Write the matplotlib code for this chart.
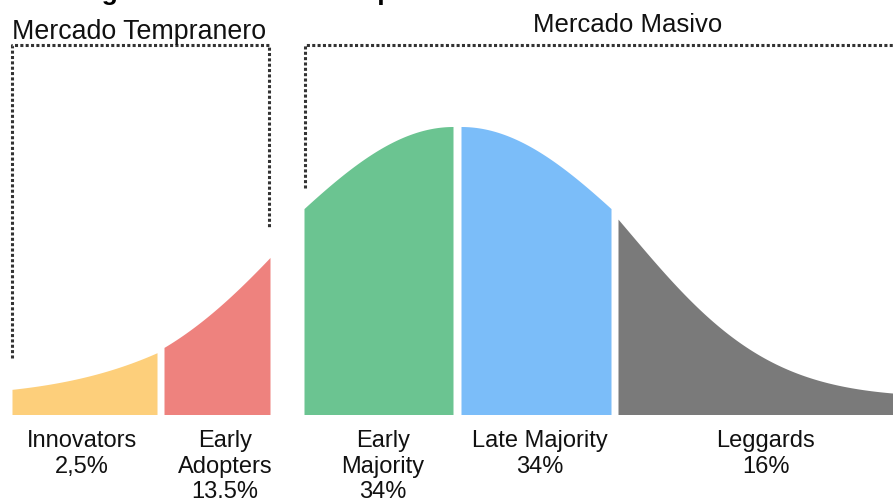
import numpy as np
import matplotlib
matplotlib.use("Agg")
from matplotlib import pyplot as plt

plt.rcParams['font.family'] = ['Liberation Sans', 'DejaVu Sans']

# adopter categories (Rogers curve, split by the chasm)
segments = ['Innovators', 'Early\nAdopters', 'Early\nMajority', 'Late Majority', 'Leggards']
shares = ['2,5%', '13.5%', '34%', '34%', '16%']
# part of the bell curve (in std devs) that each segment shows
z_start = [-2.66, -1.84, -0.85, 0.0, 0.915]
z_end = [-1.90, -1.15, 0.0, 0.85, 2.89]
tail_floor = 0.06   # the drawn curve never quite reaches zero
colors = ['#FDCF7B', '#EE827E', '#6BC491', '#7BBDF9', '#7A7A7A']

markets = ['Mercado Tempranero', 'Mercado Masivo']
title = 'Estrategia de la curva de adopción'

# layout (pixels of the 893x504 canvas)
W, H = 893, 504
base_y = 414.5
peak_h = 288
seg_x0 = [12, 164, 304, 461, 618]
seg_x1 = [157, 270, 453, 611, 893]
label_x = [82, 225, 383, 540, 766]

fig = plt.figure(figsize=(W / 100, H / 100), dpi=100)
ax = fig.add_axes([0, 0, 1, 1])
ax.set_xlim(0, W)
ax.set_ylim(H, 0)
ax.axis('off')

for i in range(len(segments)):
    z = np.linspace(z_start[i], z_end[i], 200)
    x = np.linspace(seg_x0[i], seg_x1[i], 200)
    shape = tail_floor + (1 - tail_floor) * np.exp(-z ** 2 / 2)
    ax.fill_between(x, base_y - peak_h * shape, base_y, color=colors[i], lw=0)
    ax.text(label_x[i], 430, segments[i] + '\n' + shares[i], ha='center', va='top',
            fontsize=17, linespacing=1.22, color='#111111')

# dotted brackets for the two markets
dot = dict(color='#333333', lw=2.2, linestyle=(0, (1, 0.75)), solid_capstyle='butt')
ax.plot([12, 12, 269, 269], [358, 45, 45, 228], **dot)
ax.plot([305, 305, 893], [188, 45, 45], **dot)

ax.text(12, 39, markets[0], ha='left', va='baseline', fontsize=19.3, color='#111111')
ax.text(628, 32, markets[1], ha='center', va='baseline', fontsize=18.5, color='#111111')

# title sits mostly above the canvas, only descenders show
ax.text(12, 0, title, ha='left', va='baseline', fontsize=19, fontweight='bold', color='#000000')

fig.savefig('out.png', dpi=100)
